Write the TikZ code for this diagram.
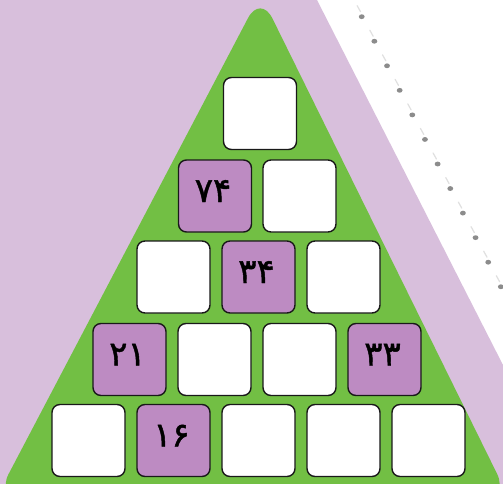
\documentclass[tikz,border=0pt]{standalone}
\usepackage{fontspec}
\newfontfamily\fa[Script=Arabic,FakeBold=1.3]{DejaVu Sans}
\definecolor{lav}{RGB}{216,191,220}
\definecolor{grn}{RGB}{114,191,68}
\definecolor{pur}{RGB}{189,139,194}
\tikzset{
  box/.style={draw=black!90, line width=1.4pt, rounded corners=8pt, minimum width=73pt, minimum height=72pt, inner sep=0pt, fill=white},
  pbox/.style={box, fill=pur},
  num/.style={anchor=base, inner sep=0pt, font=\fa\fontsize{34}{37}\selectfont},
  markline/.style={draw=black!12, line width=1.2pt, line cap=round},
  markdot/.style={fill=black!45}
}
\begin{document}
\begin{tikzpicture}[x=1pt,y=-1pt]
\useasboundingbox (0,0) rectangle (503,484);
\clip (0,0) rectangle (503,484);
\fill[white] (0,0) rectangle (503,484);
\fill[lav] (0,0) -- (317,0) -- (503,365) -- (503,484) -- (0,484) -- cycle;
% binding marks
\foreach \i in {0,...,11} {
  \begin{scope}[shift={(361.7+12.65*\i,16.7+24.55*\i)}]
    \draw[markline] (-4.5,-11) -- (-1.2,-5);
    \fill[markdot] (0,0) ellipse (2.9 and 2.4);
  \end{scope}
}
% triangle
\fill[grn, rounded corners=27pt] (260.5,-5.7) -- (-4,498) -- (509,498) -- cycle;
% row 1
\node[box] (a1) at (260,113.5) {};
% row 2
\node[pbox] (b1) at (215,196) {};
\node[box] (b2) at (299.5,196) {};
% row 3
\node[box] (c1) at (173.5,277) {};
\node[pbox] (c2) at (258.5,277) {};
\node[box] (c3) at (343.5,277) {};
% row 4
\node[pbox] (d1) at (129.5,359.5) {};
\node[box] (d2) at (214.5,359.5) {};
\node[box] (d3) at (299.5,359.5) {};
\node[pbox] (d4) at (384.5,359.5) {};
% row 5
\node[box] (e1) at (88.5,440.5) {};
\node[pbox] (e2) at (173.5,440.5) {};
\node[box] (e3) at (258.5,440.5) {};
\node[box] (e4) at (343.5,440.5) {};
\node[box] (e5) at (428.5,440.5) {};
% numbers
\node[num] (nb1) at (213,202) {۷۴};
\node[num] (nc2) at (256.5,283) {۳۴};
\node[num] (nd1) at (127.5,365.5) {۲۱};
\node[num] (nd4) at (382.5,365.5) {۳۳};
\node[num] (ne2) at (171.5,446.5) {۱۶};
\end{tikzpicture}
\end{document}
